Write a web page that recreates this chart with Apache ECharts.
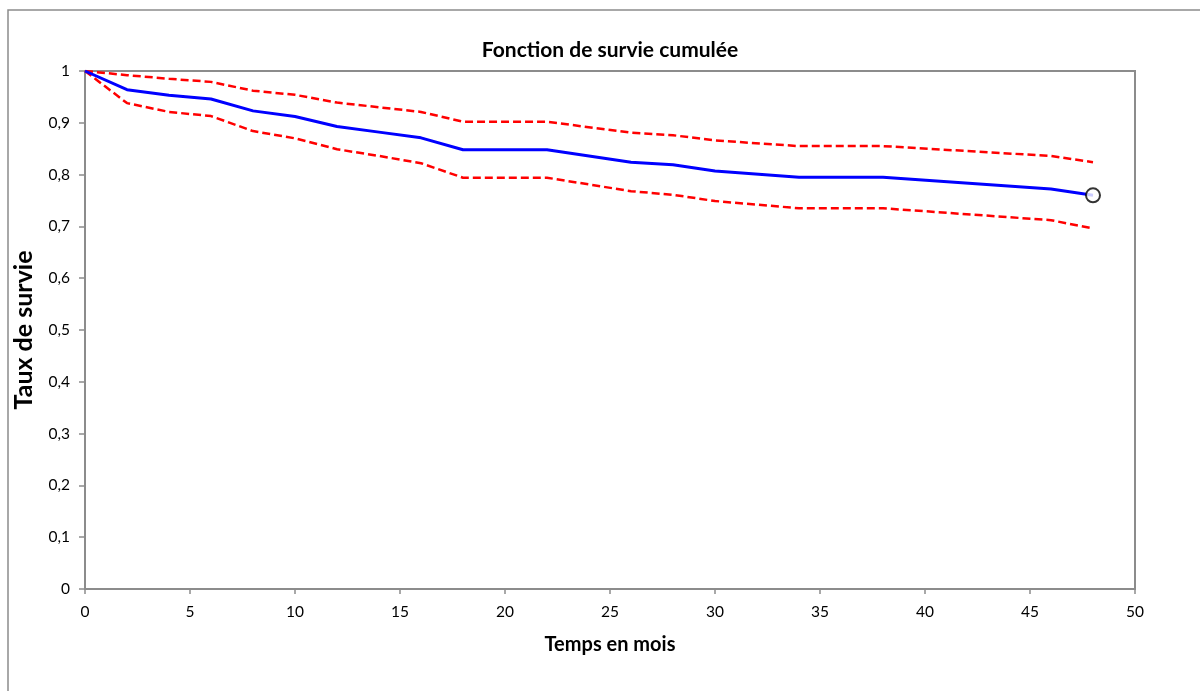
<!DOCTYPE html>
<html>
<head>
<meta charset="utf-8">
<script src="https://cdn.jsdelivr.net/npm/echarts@6/dist/echarts.min.js"></script>
<style>
  html, body { margin: 0; padding: 0; background: #ffffff; }
  #chart { width: 1200px; height: 691px; }
</style>
</head>
<body>
<div id="chart"></div>
<script>
// Survival estimate (Kaplan-Meier style) with its confidence band, by month
const temps = [0, 2, 4, 6, 8, 10, 12, 14, 16, 18, 22, 26, 28, 30, 34, 38, 46, 48];
const survie = [1, 0.964, 0.953, 0.946, 0.923, 0.912, 0.893, 0.882, 0.871, 0.848, 0.848, 0.824, 0.819, 0.807, 0.795, 0.795, 0.772, 0.760];
const borneHaute = [1, 0.992, 0.985, 0.979, 0.962, 0.954, 0.939, 0.930, 0.921, 0.902, 0.902, 0.881, 0.876, 0.866, 0.855, 0.855, 0.836, 0.824];
const borneBasse = [1, 0.938, 0.921, 0.913, 0.884, 0.870, 0.849, 0.836, 0.822, 0.794, 0.794, 0.768, 0.761, 0.749, 0.735, 0.735, 0.712, 0.696];

const FONT = 'Lato, "Open Sans", sans-serif';
const AXIS_GREY = '#8c8c8c';

const pairs = ys => temps.map((t, i) => [t, ys[i]]);
const last = temps.length - 1;

const chart = echarts.init(document.getElementById('chart'), null, { renderer: 'canvas' });

chart.setOption({
  animation: false,
  backgroundColor: '#ffffff',
  graphic: [{
    type: 'rect',
    shape: { x: 8, y: 10, width: 1400, height: 1000 },
    style: { fill: 'none', stroke: AXIS_GREY, lineWidth: 1.5 },
    silent: true
  }],
  title: {
    text: 'Fonction de survie cumulée',
    left: 605,
    top: 35,
    textAlign: 'center',
    textStyle: { fontFamily: FONT, fontSize: 21, fontWeight: 'bold', color: '#000' }
  },
  grid: {
    left: 85, top: 71, width: 1050, height: 518,
    containLabel: false,
    outerBoundsMode: 'none',
    show: true, borderColor: AXIS_GREY, borderWidth: 2, backgroundColor: 'transparent'
  },
  xAxis: {
    type: 'value',
    min: 0, max: 50, interval: 5,
    name: 'Temps en mois',
    nameLocation: 'middle',
    nameGap: 46,
    nameTextStyle: { fontFamily: FONT, fontSize: 20, fontWeight: 'bold', color: '#000' },
    axisLine: { show: true, lineStyle: { color: AXIS_GREY, width: 2 } },
    axisTick: { show: true, length: 5, lineStyle: { color: AXIS_GREY, width: 1.5 } },
    axisLabel: { fontFamily: FONT, fontSize: 15.5, color: '#000', margin: 15 },
    splitLine: { show: false }
  },
  yAxis: {
    type: 'value',
    min: 0, max: 1, interval: 0.1,
    name: 'Taux de survie',
    nameLocation: 'middle',
    nameGap: 49,
    nameRotate: 90,
    nameTextStyle: { fontFamily: FONT, fontSize: 25, fontWeight: 'bold', color: '#000' },
    axisLine: { show: true, lineStyle: { color: AXIS_GREY, width: 2 } },
    axisTick: { show: true, length: 6, lineStyle: { color: AXIS_GREY, width: 1.5 } },
    axisLabel: {
      fontFamily: FONT, fontSize: 15.5, color: '#000', margin: 15,
      formatter: v => String(Math.round(v * 10) / 10).replace('.', ',')
    },
    splitLine: { show: false }
  },
  series: [
    {
      name: 'Borne supérieure',
      type: 'line',
      data: pairs(borneHaute),
      showSymbol: false,
      lineStyle: { color: '#ff0000', width: 2.5, type: [8, 4] },
      z: 2
    },
    {
      name: 'Borne inférieure',
      type: 'line',
      data: pairs(borneBasse),
      showSymbol: false,
      lineStyle: { color: '#ff0000', width: 2.5, type: [8, 4] },
      z: 2
    },
    {
      name: 'Survie',
      type: 'line',
      data: pairs(survie),
      showSymbol: false,
      lineStyle: { color: '#0000ff', width: 3 },
      z: 3
    },
    {
      name: 'Dernier point',
      type: 'scatter',
      data: [[temps[last], survie[last]]],
      symbol: 'circle',
      symbolSize: 14,
      itemStyle: { color: '#ffffff', borderColor: '#000000', borderWidth: 2 },
      z: 4
    }
  ]
});
</script>
</body>
</html>
